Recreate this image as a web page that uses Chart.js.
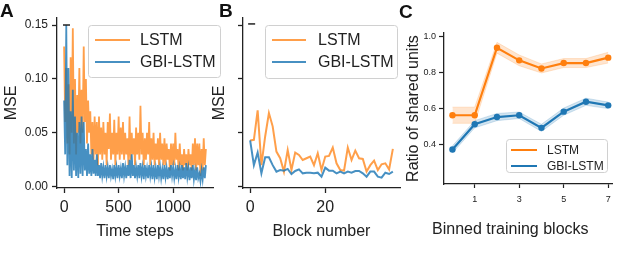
<!DOCTYPE html>
<html>
<head>
<meta charset="utf-8">
<script src="https://cdn.jsdelivr.net/npm/chart.js@4.4.1/dist/chart.umd.min.js"></script>
<style>
  html, body { margin: 0; padding: 0; background: #fff; }
  #wrap { position: relative; width: 640px; height: 269px; overflow: hidden; font-family: "Liberation Sans", Arial, sans-serif; color: #111; }
  canvas { position: absolute; left: 0; top: 0; }
  .panel-letter { position: absolute; font-weight: bold; font-size: 19px; line-height: 1; }
  .axis-title { position: absolute; font-size: 16px; line-height: 1; white-space: nowrap; color: #222; }
</style>
</head>
<body>
<div id="wrap">
  <canvas id="chart-a" width="640" height="269"></canvas>
  <canvas id="chart-b" width="640" height="269"></canvas>
  <canvas id="chart-c" width="640" height="269"></canvas>
  <div class="panel-letter" style="left:0px;top:1px">A</div>
  <div class="panel-letter" style="left:219px;top:1px">B</div>
  <div class="panel-letter" style="left:399px;top:2px">C</div>
  <div class="axis-title" style="left:432px;top:221px">Binned training blocks</div>
</div>
<script>
// series names
const lstmName = "LSTM";
const gbiName = "GBI-LSTM";

// Panel A: MSE over time steps (one value every 10 steps, 0..1300)
const lstmMseA = [
  0.130, 0.060, 0.110, 0.040, 0.095, 0.030, 0.120, 0.050, 0.147, 0.040,
  0.100, 0.030, 0.085, 0.050, 0.110, 0.040, 0.090, 0.050, 0.130, 0.060,
  0.100, 0.040, 0.080, 0.050, 0.070, 0.030, 0.060, 0.025, 0.065, 0.030,
  0.060, 0.020, 0.065, 0.030, 0.055, 0.025, 0.060, 0.030, 0.050, 0.020,
  0.060, 0.035, 0.068, 0.025, 0.050, 0.030, 0.062, 0.020, 0.050, 0.030,
  0.065, 0.025, 0.055, 0.030, 0.060, 0.025, 0.050, 0.030, 0.045, 0.020,
  0.065, 0.025, 0.050, 0.030, 0.045, 0.020, 0.055, 0.030, 0.050, 0.025,
  0.075, 0.030, 0.050, 0.020, 0.045, 0.025, 0.050, 0.030, 0.060, 0.020,
  0.045, 0.025, 0.050, 0.020, 0.040, 0.025, 0.045, 0.020, 0.050, 0.025,
  0.040, 0.020, 0.045, 0.020, 0.040, 0.025, 0.035, 0.015, 0.040, 0.020,
  0.040, 0.020, 0.050, 0.025, 0.035, 0.015, 0.040, 0.020, 0.030, 0.015,
  0.035, 0.020, 0.030, 0.015, 0.035, 0.020, 0.030, 0.015, 0.040, 0.020,
  0.045, 0.015, 0.040, 0.020, 0.040, 0.010, 0.035, 0.015, 0.045, 0.020,
  0.035
];
const gbiMseA = [
  0.080, 0.030, 0.150, 0.020, 0.110, 0.010, 0.070, 0.008, 0.090, 0.015,
  0.065, 0.010, 0.050, 0.008, 0.060, 0.012, 0.065, 0.010, 0.060, 0.015,
  0.035, 0.010, 0.040, 0.012, 0.030, 0.010, 0.035, 0.012, 0.025, 0.010,
  0.030, 0.010, 0.020, 0.008, 0.022, 0.010, 0.018, 0.008, 0.020, 0.010,
  0.018, 0.008, 0.020, 0.010, 0.016, 0.007, 0.020, 0.010, 0.018, 0.008,
  0.020, 0.010, 0.017, 0.008, 0.022, 0.010, 0.018, 0.008, 0.020, 0.010,
  0.025, 0.008, 0.030, 0.010, 0.020, 0.008, 0.018, 0.010, 0.020, 0.008,
  0.022, 0.010, 0.018, 0.007, 0.020, 0.010, 0.017, 0.008, 0.020, 0.010,
  0.018, 0.007, 0.020, 0.009, 0.017, 0.007, 0.020, 0.010, 0.018, 0.008,
  0.016, 0.007, 0.020, 0.009, 0.017, 0.007, 0.018, 0.008, 0.020, 0.010,
  0.018, 0.008, 0.016, 0.007, 0.020, 0.009, 0.017, 0.007, 0.020, 0.008,
  0.018, 0.007, 0.022, 0.009, 0.017, 0.006, 0.018, 0.008, 0.020, 0.007,
  0.015, 0.006, 0.018, 0.008, 0.012, 0.005, 0.015, 0.007, 0.018, 0.008,
  0.020
];
const timeSteps = lstmMseA.map((_, i) => i * 10);
const markerA = [{ x: 22, y: 0.15 }];

// Panel B: MSE per block
const blockNumbers = [
  0, 1, 2, 3, 4, 5, 6, 7, 8, 9, 10, 11, 12, 13, 14, 15, 16, 17, 18, 19,
  20, 21, 22, 23, 24, 25, 26, 27, 28, 29, 30, 31, 32, 33, 34, 35, 36, 37, 38
];
const lstmMseB = [
  0.0429, 0.0435, 0.0708, 0.0200, 0.0466, 0.0683, 0.0560, 0.0326, 0.0264, 0.0140,
  0.0340, 0.0155, 0.0317, 0.0295, 0.0248, 0.0264, 0.0280, 0.0200, 0.0310, 0.0155,
  0.0280, 0.0286, 0.0363, 0.0217, 0.0155, 0.0149, 0.0363, 0.0248, 0.0335, 0.0264,
  0.0258, 0.0140, 0.0200, 0.0242, 0.0155, 0.0208, 0.0217, 0.0160, 0.0351
];
const gbiMseB = [
  0.0429, 0.0200, 0.0317, 0.0124, 0.0273, 0.0273, 0.0200, 0.0140, 0.0155, 0.0149,
  0.0165, 0.0118, 0.0146, 0.0161, 0.0124, 0.0130, 0.0130, 0.0124, 0.0130, 0.0093,
  0.0177, 0.0149, 0.0149, 0.0124, 0.0140, 0.0124, 0.0140, 0.0130, 0.0146, 0.0146,
  0.0124, 0.0093, 0.0140, 0.0140, 0.0093, 0.0084, 0.0130, 0.0118, 0.0140
];
const markerB = [{ x: 0.4, y: 0.151 }];

// Panel C: ratio of shared units per binned training block
const binnedBlocks = [0, 1, 2, 3, 4, 5, 6, 7];
const lstmShared = [0.56, 0.56, 0.935, 0.865, 0.82, 0.85, 0.85, 0.88];
const lstmSharedUpper = [0.605, 0.605, 0.965, 0.895, 0.845, 0.875, 0.875, 0.91];
const lstmSharedLower = [0.515, 0.515, 0.905, 0.835, 0.795, 0.825, 0.825, 0.85];
const gbiShared = [0.37, 0.51, 0.55, 0.56, 0.49, 0.58, 0.635, 0.615];
const gbiSharedUpper = [0.39, 0.53, 0.57, 0.578, 0.51, 0.60, 0.655, 0.633];
const gbiSharedLower = [0.35, 0.49, 0.53, 0.542, 0.47, 0.56, 0.615, 0.597];

// tick values
const mseTicks = [0, 0.05, 0.1, 0.15];
const stepTicks = [0, 500, 1000];
const blockTicks = [0, 20];
const sharedTicks = [0.4, 0.6, 0.8, 1.0];
const binnedTicks = [1, 3, 5, 7];

const orange = "#ff7f0e";
const blue = "#1f77b4";
const orangeA = "rgba(255, 127, 14, 0.75)";
const blueA = "rgba(31, 119, 180, 0.82)";
const ink = "#222";
const fontFamily = "'Liberation Sans', Arial, sans-serif";

function toPoints(xs, ys) {
  return ys.map((y, i) => ({ x: xs[i], y: y }));
}

function fixedTicks(values) {
  return function (scale) {
    scale.ticks = values.map((v) => ({ value: v }));
  };
}

// legend box drawn inside the plot, like matplotlib's
function makeLegend(cfg) {
  return {
    id: "boxLegend",
    afterDatasetsDraw(chart) {
      const ctx = chart.ctx;
      ctx.save();
      ctx.beginPath();
      ctx.roundRect(cfg.x + 0.5, cfg.y + 0.5, cfg.w, cfg.h, 3);
      ctx.fillStyle = "rgba(255,255,255,0.85)";
      ctx.fill();
      ctx.strokeStyle = "#d0d0d0";
      ctx.lineWidth = 1;
      ctx.stroke();
      ctx.font = cfg.fontSize + "px " + fontFamily;
      ctx.textBaseline = "middle";
      ctx.textAlign = "left";
      cfg.items.forEach((item, i) => {
        const y = cfg.y + cfg.firstRow + i * cfg.rowGap;
        ctx.beginPath();
        ctx.moveTo(cfg.x + cfg.lineStart, y);
        ctx.lineTo(cfg.x + cfg.lineStart + cfg.lineLen, y);
        ctx.strokeStyle = item.color;
        ctx.lineWidth = 2;
        ctx.stroke();
        ctx.fillStyle = ink;
        ctx.fillText(item.label, cfg.x + cfg.textStart, y + 1);
      });
      ctx.restore();
    },
  };
}

function axisStyle(extra) {
  return Object.assign(
    {
      type: "linear",
      border: { display: true, color: ink, width: 1.3 },
      grid: {
        drawOnChartArea: false,
        drawTicks: true,
        tickLength: 5,
        tickColor: ink,
        tickWidth: 1.3,
      },
    },
    extra
  );
}

const baseOptions = {
  responsive: false,
  animation: false,
  devicePixelRatio: 1,
  events: [],
};

// ---------- Panel A ----------
new Chart(document.getElementById("chart-a").getContext("2d"), {
  type: "line",
  data: {
    datasets: [
      {
        label: lstmName,
        data: toPoints(timeSteps, lstmMseA),
        borderColor: orangeA,
        borderWidth: 1.8,
        pointRadius: 0,
        tension: 0,
        order: 2,
      },
      {
        label: gbiName,
        data: toPoints(timeSteps, gbiMseA),
        borderColor: blueA,
        borderWidth: 1.8,
        pointRadius: 0,
        tension: 0,
        order: 1,
      },
      {
        type: "scatter",
        data: markerA,
        pointStyle: "line",
        pointRadius: 3.5,
        borderColor: ink,
        borderWidth: 1.5,
        order: 0,
      },
    ],
  },
  options: Object.assign({}, baseOptions, {
    layout: { padding: { left: 0, top: 18, right: 427, bottom: 21 } },
    plugins: { legend: { display: false }, tooltip: { enabled: false } },
    scales: {
      x: axisStyle({
        min: -65,
        max: 1365,
        afterBuildTicks: fixedTicks(stepTicks),
        afterFit: (s) => { s.height = 60; },
        ticks: { color: ink, padding: 5, font: { size: 16, family: fontFamily }, callback: (v) => String(v) },
        title: { display: true, text: "Time steps", color: ink, padding: { top: 0, bottom: 7 }, font: { size: 16, family: fontFamily } },
      }),
      y: axisStyle({
        min: -0.0012,
        max: 0.1565,
        afterBuildTicks: fixedTicks(mseTicks),
        afterFit: (s) => { s.width = 57; },
        ticks: { color: ink, padding: 4, font: { size: 12, family: fontFamily }, callback: (v) => v.toFixed(2) },
        title: { display: true, text: "MSE", color: ink, padding: { top: 2, bottom: 0 }, font: { size: 16, family: fontFamily } },
      }),
    },
  }),
  plugins: [
    makeLegend({
      x: 88, y: 25, w: 132, h: 52, firstRow: 15, rowGap: 22,
      lineStart: 7, lineLen: 35, textStart: 52, fontSize: 16,
      items: [{ label: lstmName, color: orangeA }, { label: gbiName, color: blueA }],
    }),
  ],
});

// ---------- Panel B ----------
new Chart(document.getElementById("chart-b").getContext("2d"), {
  type: "line",
  data: {
    datasets: [
      {
        label: lstmName,
        data: toPoints(blockNumbers, lstmMseB),
        borderColor: orangeA,
        borderWidth: 2,
        pointRadius: 0,
        tension: 0,
        order: 2,
      },
      {
        label: gbiName,
        data: toPoints(blockNumbers, gbiMseB),
        borderColor: blueA,
        borderWidth: 2,
        pointRadius: 0,
        tension: 0,
        order: 1,
      },
      {
        type: "scatter",
        data: markerB,
        pointStyle: "line",
        pointRadius: 3.5,
        borderColor: ink,
        borderWidth: 1.5,
        order: 0,
      },
    ],
  },
  options: Object.assign({}, baseOptions, {
    layout: { padding: { left: 208, top: 18, right: 240, bottom: 21 } },
    plugins: { legend: { display: false }, tooltip: { enabled: false } },
    scales: {
      x: axisStyle({
        min: -1.9,
        max: 39.9,
        afterBuildTicks: fixedTicks(blockTicks),
        afterFit: (s) => { s.height = 60; },
        ticks: { color: ink, padding: 5, font: { size: 16, family: fontFamily } },
        title: { display: true, text: "Block number", color: ink, padding: { top: 0, bottom: 7 }, font: { size: 16, family: fontFamily } },
      }),
      y: axisStyle({
        min: -0.0012,
        max: 0.1565,
        afterBuildTicks: fixedTicks(mseTicks),
        afterFit: (s) => { s.width = 35; },
        ticks: { display: false },
        title: { display: true, text: "MSE", color: ink, padding: { top: 2, bottom: 0 }, font: { size: 16, family: fontFamily } },
      }),
    },
  }),
  plugins: [
    makeLegend({
      x: 265, y: 25, w: 132, h: 53, firstRow: 15, rowGap: 22,
      lineStart: 7, lineLen: 34, textStart: 53, fontSize: 16,
      items: [{ label: lstmName, color: orangeA }, { label: gbiName, color: blueA }],
    }),
  ],
});

// ---------- Panel C ----------
new Chart(document.getElementById("chart-c").getContext("2d"), {
  type: "line",
  data: {
    datasets: [
      {
        data: toPoints(binnedBlocks, lstmSharedUpper),
        borderColor: "rgba(255, 127, 14, 0.18)",
        borderWidth: 1,
        pointRadius: 0,
        fill: false,
        order: 5,
      },
      {
        data: toPoints(binnedBlocks, lstmSharedLower),
        borderColor: "rgba(255, 127, 14, 0.18)",
        backgroundColor: "rgba(255, 127, 14, 0.2)",
        borderWidth: 1,
        pointRadius: 0,
        fill: "-1",
        order: 5,
      },
      {
        data: toPoints(binnedBlocks, gbiSharedUpper),
        borderColor: "rgba(31, 119, 180, 0.18)",
        borderWidth: 1,
        pointRadius: 0,
        fill: false,
        order: 4,
      },
      {
        data: toPoints(binnedBlocks, gbiSharedLower),
        borderColor: "rgba(31, 119, 180, 0.18)",
        backgroundColor: "rgba(31, 119, 180, 0.2)",
        borderWidth: 1,
        pointRadius: 0,
        fill: "-1",
        order: 4,
      },
      {
        label: lstmName,
        data: toPoints(binnedBlocks, lstmShared),
        borderColor: orange,
        backgroundColor: orange,
        borderWidth: 2.2,
        pointRadius: 3.2,
        pointBorderWidth: 0,
        tension: 0,
        order: 2,
      },
      {
        label: gbiName,
        data: toPoints(binnedBlocks, gbiShared),
        borderColor: blue,
        backgroundColor: blue,
        borderWidth: 2.2,
        pointRadius: 3.2,
        pointBorderWidth: 0,
        tension: 0,
        order: 1,
      },
    ],
  },
  options: Object.assign({}, baseOptions, {
    layout: { padding: { left: 403, top: 33, right: 28, bottom: 55 } },
    plugins: { legend: { display: false }, tooltip: { enabled: false } },
    scales: {
      x: axisStyle({
        min: -0.38,
        max: 7.17,
        afterBuildTicks: fixedTicks(binnedTicks),
        afterFit: (s) => { s.height = 30; },
        grid: { drawOnChartArea: false, drawTicks: true, tickLength: 4, tickColor: ink, tickWidth: 1.2 },
        ticks: { color: ink, padding: 6, font: { size: 9, family: fontFamily } },
      }),
      y: axisStyle({
        min: 0.178,
        max: 1.017,
        afterBuildTicks: fixedTicks(sharedTicks),
        afterFit: (s) => { s.width = 41; },
        grid: { drawOnChartArea: false, drawTicks: true, tickLength: 5, tickColor: ink, tickWidth: 1.2 },
        ticks: { color: ink, padding: 3, font: { size: 9, family: fontFamily }, callback: (v) => v.toFixed(1) },
        title: { display: true, text: "Ratio of shared units", color: ink, padding: { top: 1, bottom: 0 }, font: { size: 16, family: fontFamily } },
      }),
    },
  }),
  plugins: [
    makeLegend({
      x: 506, y: 139, w: 101, h: 33, firstRow: 11, rowGap: 16,
      lineStart: 5, lineLen: 26, textStart: 41, fontSize: 12,
      items: [{ label: lstmName, color: orange }, { label: gbiName, color: blue }],
    }),
  ],
});
</script>
</body>
</html>
